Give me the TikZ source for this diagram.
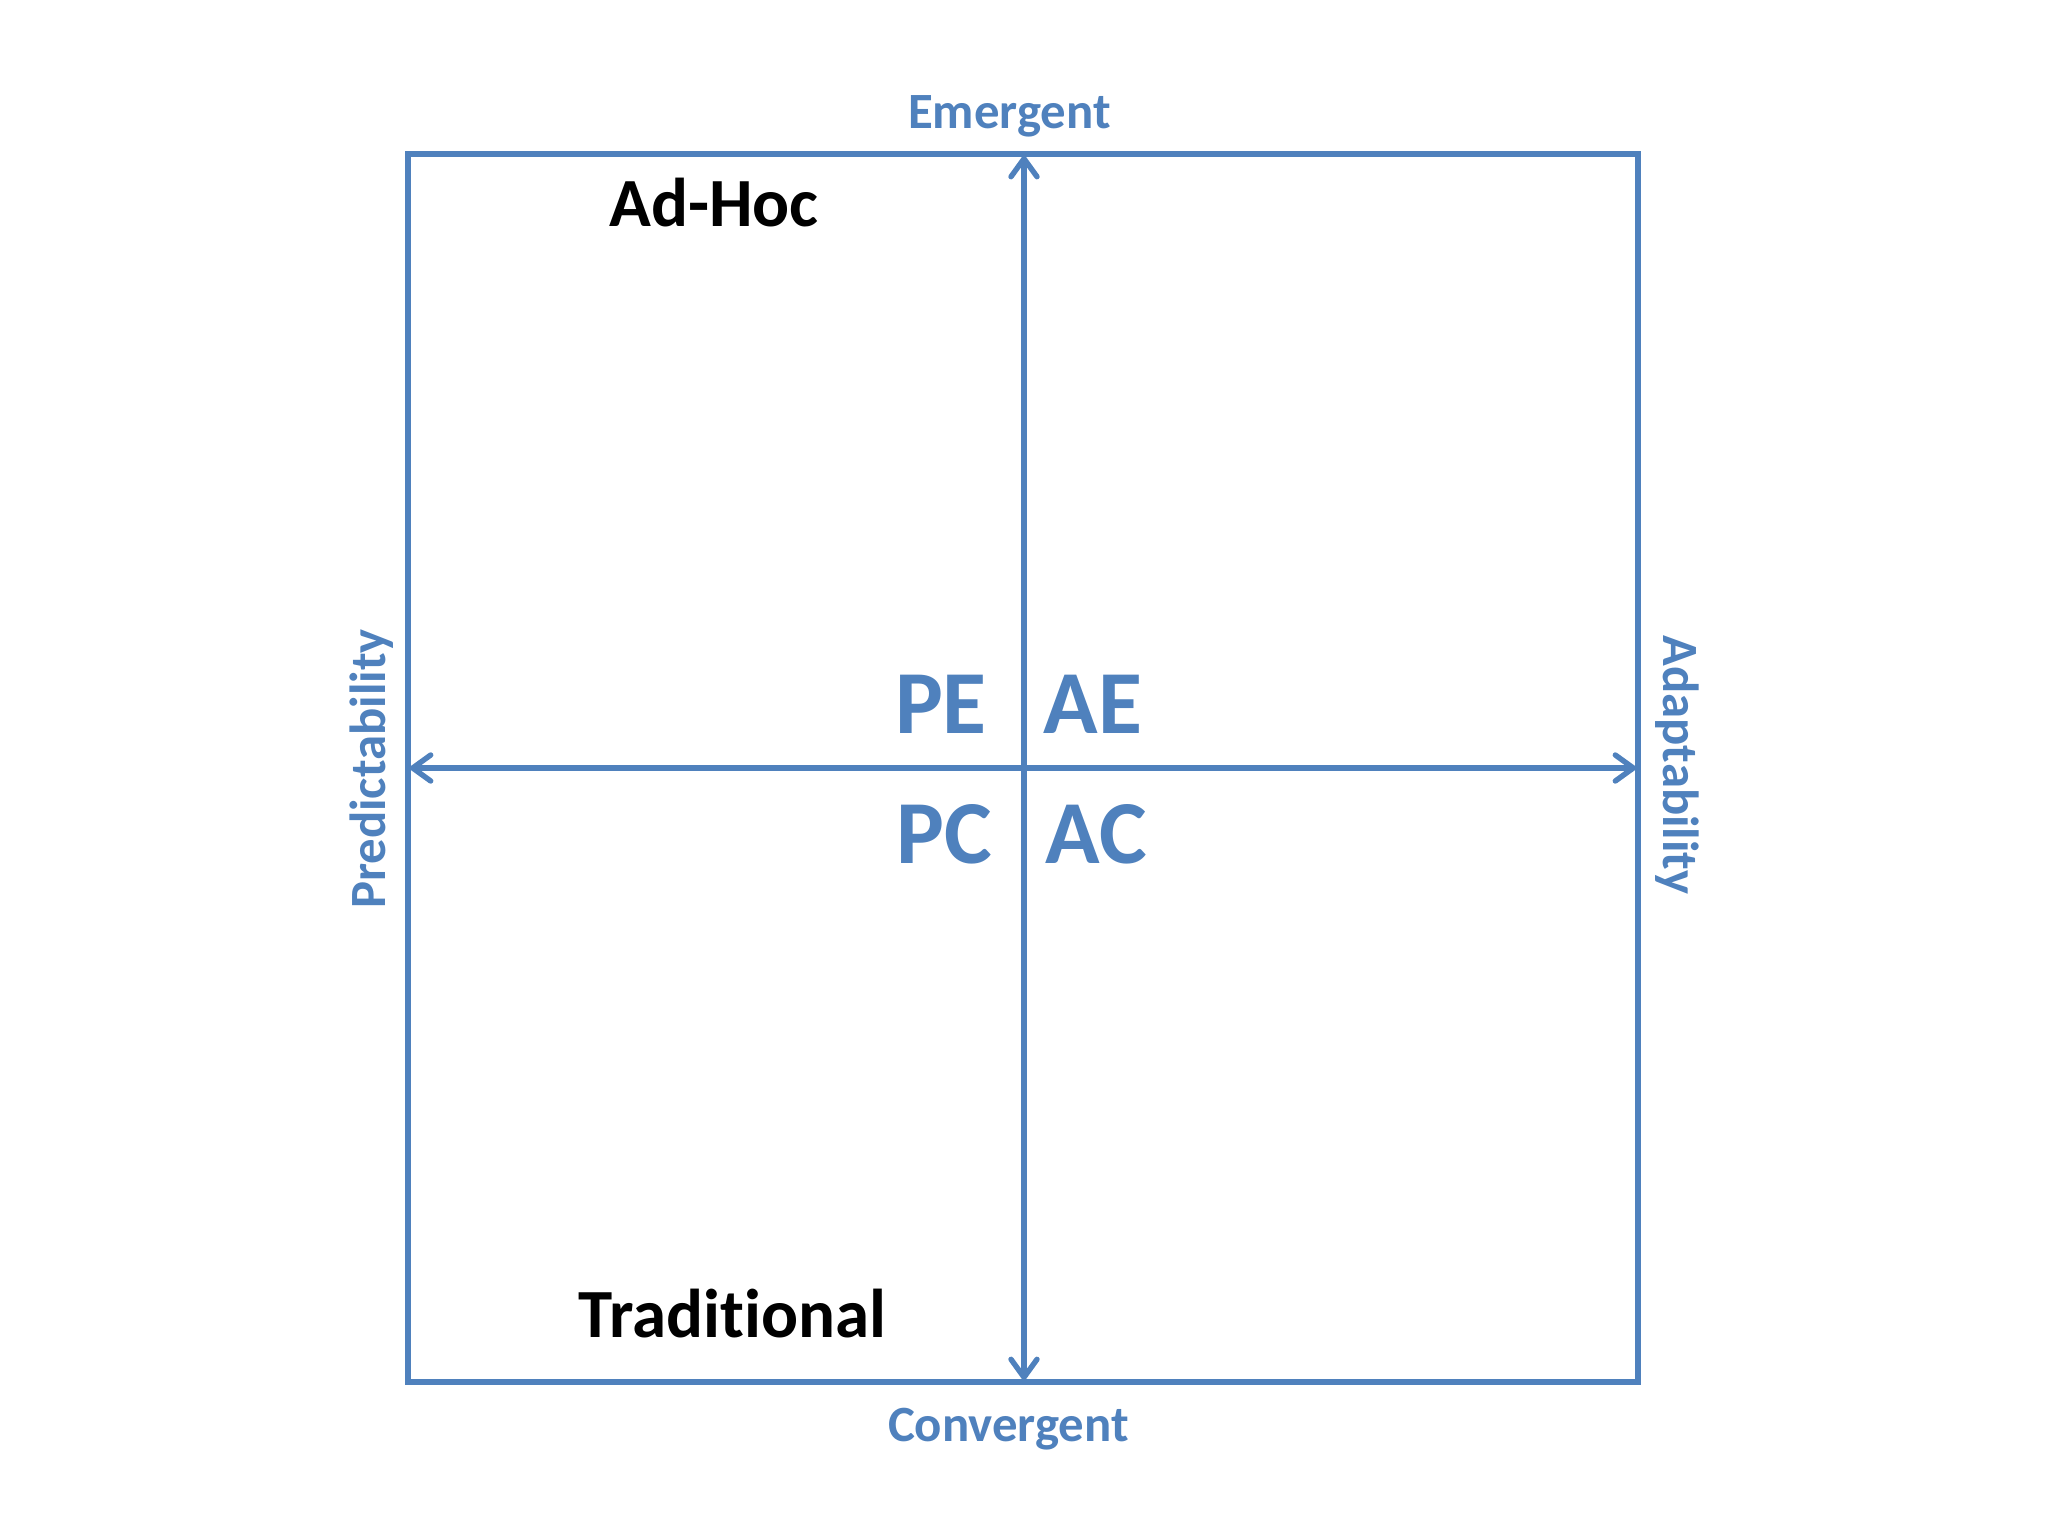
\documentclass[tikz,border=0pt]{standalone}
\usepackage{fontspec}
\setmainfont{Carlito}[RawFeature={-liga}]
\usetikzlibrary{arrows.meta}
\definecolor{axisblue}{HTML}{4F81BD}
\tikzset{
  axis/.style={draw=axisblue, line width=2.7bp, line cap=round,
    {Straight Barb[length=9bp,width=13bp,line cap=round,line join=round]}-{Straight Barb[length=9bp,width=13bp,line cap=round,line join=round]}},
  frame/.style={draw=axisblue, line width=3.1bp, line join=miter},
  axislabel/.style={text=axisblue, font=\bfseries\fontsize{25.4bp}{30bp}\selectfont, inner sep=0pt, anchor=base},
  quad/.style={text=axisblue, font=\bfseries\fontsize{45bp}{54bp}\selectfont, inner sep=0pt, anchor=base},
  approach/.style={text=black, font=\bfseries\fontsize{34.5bp}{40bp}\selectfont, inner sep=0pt, anchor=base}
}
\begin{document}
\begin{tikzpicture}[x=0.5bp,y=-0.5bp]
\useasboundingbox[fill=white] (0,0) rectangle (2048,1536);
% frame
\draw[frame] (407.7,154) rectangle (1638.3,1382);
% axis end points
\coordinate (top) at (1024,156);
\coordinate (bottom) at (1024,1380);
\coordinate (left) at (410,768);
\coordinate (right) at (1636,768);
\draw[axis] (bottom) -- (top);
\draw[axis] (left) -- (right);
% axis labels
\node[axislabel] (emergent) at (1009.5,128) {Emergent};
\node[axislabel] (convergent) at (1008.5,1441) {Convergent};
\node[axislabel, rotate=90] (predict) at (385,769) {Predictabil\kern0pt ity};
\node[axislabel, rotate=-90] (adapt) at (1663,765) {Adaptabil\kern0pt ity};
% quadrants
\node[quad] (pe) at (941,733) {PE};
\node[quad] (ae) at (1093,733) {AE};
\node[quad] (pc) at (944.5,863) {PC};
\node[quad] (ac) at (1096,863) {AC};
% approaches
\node[approach] (adhoc) at (714,226) {Ad-Hoc};
\node[approach] (trad) at (732.5,1337) {Tradit\kern0pt ional};
\end{tikzpicture}
\end{document}
